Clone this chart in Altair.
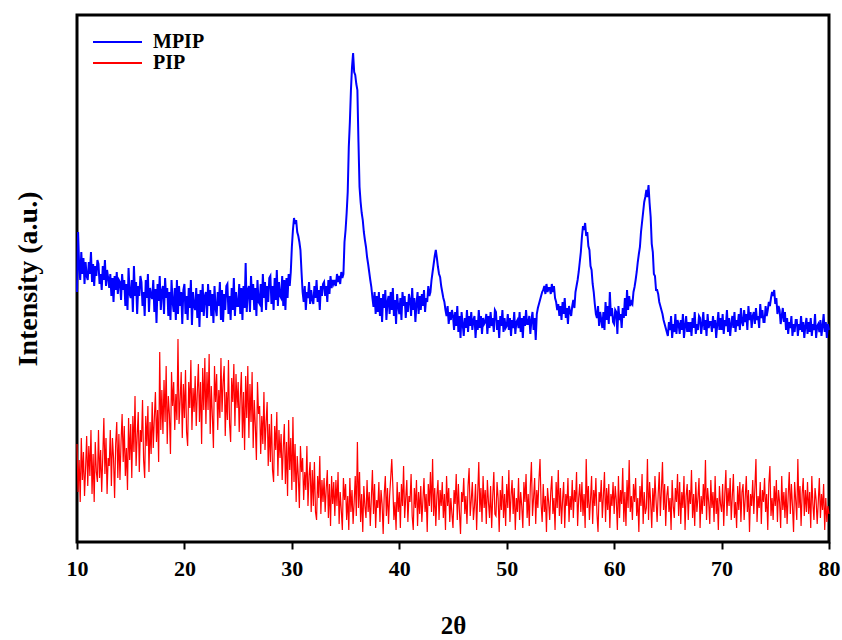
import altair as alt
import pandas as pd

# XRD patterns (2-theta from 10 to 80 degrees), intensities in arbitrary units.
# Both patterns are sampled every 0.1 degrees; each row is one degree (d.0 ... d.9).
step = 0.1

mpip_intensity = [
    250, 310, 276, 262, 290, 268, 284, 258, 280, 266,   # 10
    262, 280, 268, 290, 260, 278, 256, 276, 266, 282,   # 11
    278, 258, 268, 252, 276, 262, 282, 256, 272, 264,   # 12
    254, 268, 246, 264, 240, 266, 252, 270, 248, 262,   # 13
    260, 242, 268, 252, 262, 236, 258, 232, 274, 248,   # 14
    244, 262, 230, 276, 246, 260, 228, 256, 246, 266,   # 15
    260, 236, 250, 226, 262, 244, 268, 230, 254, 246,   # 16
    243, 262, 230, 253, 219, 258, 241, 266, 232, 251,   # 17
    256, 228, 264, 244, 254, 226, 250, 222, 262, 240,   # 18
    230, 254, 222, 262, 228, 256, 236, 250, 218, 252,   # 19
    258, 228, 246, 222, 254, 234, 262, 217, 250, 236,   # 20
    232, 254, 224, 248, 215, 252, 230, 258, 226, 246,   # 21
    250, 224, 258, 236, 252, 226, 248, 219, 256, 234,   # 22
    226, 250, 236, 260, 222, 252, 220, 248, 232, 256,   # 23
    258, 228, 246, 222, 254, 232, 264, 226, 250, 236,   # 24
    236, 258, 228, 254, 222, 256, 234, 279, 230, 252,   # 25
    256, 230, 266, 242, 258, 232, 254, 226, 262, 240,   # 26
    238, 258, 230, 268, 244, 260, 232, 256, 240, 264,   # 27
    266, 238, 256, 232, 264, 242, 272, 236, 260, 246,   # 28
    244, 266, 236, 262, 232, 264, 244, 268, 256, 270,   # 29
    295, 312, 324, 318, 322, 310, 306, 300, 292, 270,   # 30
    250, 240, 256, 232, 250, 244, 260, 238, 252, 242,   # 31
    238, 256, 244, 262, 240, 252, 232, 256, 246, 258,   # 32
    260, 246, 256, 240, 262, 248, 266, 254, 262, 258,   # 33
    262, 256, 268, 260, 266, 258, 270, 264, 268, 300,   # 34
    312, 329, 350, 395, 420, 452, 475, 489, 470, 467,   # 35
    458, 452, 400, 355, 340, 329, 322, 310, 302, 295,   # 36
    285, 278, 270, 262, 255, 244, 235, 250, 228, 246,   # 37
    230, 250, 226, 244, 220, 248, 234, 252, 222, 240,   # 38
    246, 228, 250, 232, 254, 226, 242, 218, 248, 236,   # 39
    228, 244, 222, 250, 236, 246, 224, 240, 230, 248,   # 40
    242, 226, 254, 232, 244, 220, 238, 250, 228, 246,   # 41
    232, 248, 236, 252, 230, 244, 240, 256, 246, 250,   # 42
    262, 270, 278, 286, 292, 284, 275, 268, 265, 256,   # 43
    250, 244, 240, 232, 226, 236, 218, 230, 222, 232,   # 44
    226, 212, 230, 216, 236, 210, 226, 204, 230, 218,   # 45
    206, 224, 214, 232, 210, 226, 216, 230, 212, 222,   # 46
    226, 204, 222, 212, 232, 214, 226, 208, 224, 218,   # 47
    220, 228, 208, 226, 214, 230, 216, 224, 210, 232,   # 48
    230, 212, 222, 204, 226, 216, 232, 210, 224, 214,   # 49
    216, 228, 212, 224, 206, 222, 214, 230, 208, 220,   # 50
    222, 214, 230, 210, 224, 204, 226, 216, 232, 218,   # 51
    218, 226, 208, 222, 230, 212, 224, 202, 228, 234,   # 52
    238, 242, 246, 250, 252, 256, 248, 258, 250, 254,   # 53
    254, 248, 258, 250, 256, 244, 240, 232, 238, 226,   # 54
    236, 222, 240, 228, 244, 224, 234, 218, 236, 230,   # 55
    226, 236, 242, 234, 250, 256, 262, 270, 280, 290,   # 56
    305, 316, 312, 319, 306, 310, 296, 292, 276, 272,   # 57
    258, 250, 238, 228, 224, 236, 216, 230, 222, 214,   # 58
    230, 212, 240, 222, 236, 218, 250, 226, 234, 220,   # 59
    218, 232, 230, 208, 236, 222, 228, 214, 234, 224,   # 60
    244, 226, 252, 232, 246, 236, 240, 238, 250, 255,   # 61
    262, 270, 280, 288, 295, 310, 320, 330, 340, 345,   # 62
    352, 345, 357, 339, 325, 298, 290, 268, 266, 252,   # 63
    252, 248, 240, 236, 232, 228, 222, 218, 214, 210,   # 64
    206, 220, 212, 226, 204, 218, 210, 228, 208, 222,   # 65
    218, 208, 222, 212, 228, 204, 216, 226, 210, 220,   # 66
    210, 220, 206, 224, 214, 230, 208, 218, 212, 226,   # 67
    224, 208, 218, 230, 212, 222, 206, 228, 214, 220,   # 68
    220, 210, 226, 214, 222, 204, 218, 230, 212, 224,   # 69
    212, 228, 208, 222, 216, 232, 210, 224, 206, 218,   # 70
    226, 214, 230, 210, 222, 216, 228, 212, 234, 220,   # 71
    216, 232, 220, 228, 212, 236, 222, 230, 214, 226,   # 72
    230, 218, 234, 222, 226, 214, 238, 224, 232, 220,   # 73
    220, 236, 226, 232, 240, 236, 244, 250, 246, 252,   # 74
    238, 244, 228, 236, 232, 218, 226, 234, 220, 230,   # 75
    212, 224, 208, 220, 214, 226, 206, 218, 210, 222,   # 76
    222, 206, 218, 212, 226, 210, 220, 204, 216, 224,   # 77
    208, 220, 210, 224, 206, 218, 212, 228, 204, 216,   # 78
    218, 210, 222, 206, 216, 228, 210, 220, 204, 218,   # 79
    212,                                                # 80
]

pip_intensity = [
    98, 50, 82, 40, 104, 62, 90, 46, 74, 106,       # 10
    56, 96, 66, 112, 48, 88, 40, 100, 70, 60,       # 11
    112, 64, 92, 50, 86, 124, 68, 104, 48, 84,      # 12
    76, 112, 56, 104, 84, 44, 98, 120, 64, 108,     # 13
    62, 100, 128, 80, 116, 66, 94, 52, 124, 82,     # 14
    118, 64, 126, 90, 146, 76, 106, 130, 70, 112,   # 15
    100, 142, 82, 64, 126, 96, 136, 70, 120, 88,    # 16
    140, 94, 124, 150, 100, 132, 80, 190, 112, 152, # 17
    108, 162, 120, 176, 98, 146, 128, 88, 170, 136, # 18
    160, 112, 148, 122, 203, 118, 142, 170, 104, 158,  # 19
    124, 172, 110, 96, 160, 134, 182, 112, 154, 130,   # 20
    166, 116, 150, 178, 120, 160, 98, 174, 132, 184,   # 21
    118, 170, 132, 188, 108, 156, 126, 94, 176, 140,   # 22
    168, 112, 152, 124, 184, 130, 160, 176, 106, 150,  # 23
    122, 182, 118, 100, 164, 140, 178, 116, 168, 134,  # 24
    160, 110, 146, 170, 104, 150, 92, 166, 124, 176,   # 25
    104, 158, 120, 170, 94, 142, 116, 82, 160, 128,    # 26
    136, 88, 126, 98, 150, 92, 120, 140, 76, 118,      # 27
    80, 128, 72, 60, 116, 92, 130, 66, 112, 84,     # 28
    108, 62, 94, 118, 58, 100, 46, 122, 72, 104,    # 29
    52, 125, 60, 98, 40, 86, 66, 34, 96, 70,        # 30
    84, 42, 70, 52, 96, 36, 66, 80, 30, 72,         # 31
    36, 80, 30, 22, 66, 44, 86, 28, 62, 40,         # 32
    64, 30, 54, 72, 24, 58, 16, 66, 38, 60,         # 33
    26, 62, 36, 70, 18, 50, 32, 12, 64, 42,         # 34
    58, 22, 46, 12, 64, 30, 52, 18, 40, 66,         # 35
    26, 100, 34, 70, 20, 48, 10, 56, 36, 24,        # 36
    62, 30, 50, 16, 44, 72, 28, 58, 14, 42,         # 37
    34, 60, 20, 52, 38, 8, 48, 66, 26, 54,          # 38
    18, 46, 64, 83, 56, 22, 40, 12, 60, 30,         # 39
    50, 14, 58, 36, 76, 24, 44, 62, 20, 46,         # 40
    40, 68, 26, 12, 54, 34, 62, 16, 50, 28,         # 41
    56, 20, 42, 64, 30, 48, 10, 58, 36, 70,         # 42
    30, 83, 26, 54, 16, 46, 62, 22, 52, 36,         # 43
    60, 24, 48, 12, 66, 36, 54, 20, 44, 28,         # 44
    14, 52, 38, 68, 22, 58, 30, 8, 50, 40,          # 45
    64, 28, 46, 18, 56, 74, 26, 42, 60, 22,         # 46
    36, 58, 12, 48, 80, 30, 54, 20, 66, 34,         # 47
    52, 18, 62, 40, 24, 56, 14, 46, 70, 28,         # 48
    26, 60, 44, 10, 52, 32, 66, 24, 48, 16,         # 49
    58, 34, 72, 20, 46, 62, 28, 54, 12, 44,         # 50
    30, 64, 22, 50, 36, 14, 60, 40, 68, 24,         # 51
    48, 16, 56, 80, 26, 44, 64, 18, 52, 34,         # 52
    62, 83, 38, 20, 58, 30, 46, 10, 54, 40,         # 53
    22, 50, 66, 28, 44, 12, 60, 34, 72, 26,         # 54
    54, 18, 42, 60, 14, 48, 36, 64, 20, 46,         # 55
    32, 62, 24, 52, 40, 70, 16, 44, 58, 30,         # 56
    60, 26, 48, 14, 83, 34, 56, 22, 42, 66,         # 57
    18, 52, 36, 64, 28, 10, 50, 40, 62, 24,         # 58
    46, 70, 20, 54, 32, 58, 14, 48, 36, 60,         # 59
    28, 56, 42, 12, 66, 24, 52, 38, 74, 20,         # 60
    50, 16, 62, 34, 82, 30, 46, 22, 58, 40,         # 61
    64, 26, 44, 10, 56, 36, 68, 18, 50, 28,         # 62
    34, 83, 22, 60, 40, 14, 54, 30, 66, 42,         # 63
    20, 48, 70, 26, 52, 80, 32, 58, 16, 46,         # 64
    56, 30, 44, 12, 62, 36, 24, 54, 40, 68,         # 65
    26, 60, 18, 50, 34, 66, 12, 46, 58, 22,         # 66
    52, 38, 72, 24, 48, 16, 60, 30, 44, 64,         # 67
    14, 46, 28, 58, 36, 82, 22, 54, 40, 18,         # 68
    62, 34, 50, 20, 66, 28, 44, 12, 56, 38,         # 69
    30, 58, 16, 48, 72, 26, 54, 36, 64, 22,         # 70
    46, 68, 24, 40, 14, 56, 32, 60, 20, 50,         # 71
    58, 22, 44, 66, 30, 52, 10, 48, 36, 62,         # 72
    28, 54, 83, 20, 46, 34, 60, 18, 52, 40,         # 73
    64, 30, 48, 12, 58, 76, 26, 44, 22, 56,         # 74
    36, 62, 20, 52, 40, 14, 66, 32, 50, 24,         # 75
    54, 18, 46, 70, 28, 58, 36, 10, 60, 42,         # 76
    22, 83, 34, 56, 16, 48, 64, 26, 52, 30,         # 77
    60, 28, 50, 14, 66, 38, 22, 54, 42, 18,         # 78
    40, 64, 24, 48, 32, 58, 12, 44, 20, 36,         # 79
    28,                                             # 80
]

x_ticks = [10, 20, 30, 40, 50, 60, 70, 80]
series_names = ["MPIP", "PIP"]
series_colors = ["#0000ff", "#ff0000"]

mpip_df = pd.DataFrame({
    "angle": [round(10 + i * step, 1) for i in range(len(mpip_intensity))],
    "intensity": mpip_intensity,
})
pip_df = pd.DataFrame({
    "angle": [round(10 + i * step, 1) for i in range(len(pip_intensity))],
    "intensity": pip_intensity,
})

FONT = "'Liberation Serif', 'Times New Roman', Times, serif"

x_enc = alt.X(
    "angle:Q",
    scale=alt.Scale(domain=[10, 80], nice=False, zero=False),
    axis=alt.Axis(
        values=x_ticks, format="d", title="2θ", grid=False, domain=False,
        ticks=True, tickSize=7, tickWidth=2, tickColor="black",
        labelFont=FONT, labelFontWeight="bold", labelFontSize=22,
        labelColor="black", labelPadding=9, labelFlush=False,
        titleFont=FONT, titleFontWeight="bold", titleFontSize=25,
        titleColor="black", titlePadding=34,
    ),
)
y_enc = alt.Y(
    "intensity:Q",
    scale=alt.Scale(domain=[0, 527], nice=False, zero=False),
    axis=alt.Axis(
        title="Intensity (a.u.)", labels=False, ticks=False, domain=False,
        grid=False, titleFont=FONT, titleFontWeight="bold", titleFontSize=28,
        titleColor="black", titlePadding=35,
    ),
)

mpip_line = alt.Chart(mpip_df).mark_line(
    color=series_colors[0], strokeWidth=2
).encode(x=x_enc, y=y_enc)

pip_line = alt.Chart(pip_df).mark_line(
    color=series_colors[1], strokeWidth=1.2
).encode(x=x_enc, y=y_enc)

# Legend in the upper-left corner of the frame
blank = alt.Data(values=[{}])
legend_layers = []
for i, (name, color) in enumerate(zip(series_names, series_colors)):
    y_pos = 27 + 21 * i
    legend_layers.append(
        alt.Chart(blank).mark_rule(color=color, strokeWidth=2).encode(
            x=alt.value(16), x2=alt.value(65), y=alt.value(y_pos)
        )
    )
    legend_layers.append(
        alt.Chart(blank).mark_text(
            text=name, font=FONT, fontWeight="bold", fontSize=20,
            color="black", align="left", baseline="middle",
        ).encode(x=alt.value(76), y=alt.value(y_pos))
    )

chart = alt.layer(mpip_line, pip_line, *legend_layers).properties(
    width=752,
    height=527,
    autosize=alt.AutoSizeParams(type="none"),
    padding={"left": 77, "top": 15, "right": 13, "bottom": 98},
    background="white",
).configure_view(
    stroke="black", strokeWidth=3
)

chart.save("out.html", embed_options={"renderer": "svg", "actions": False})
